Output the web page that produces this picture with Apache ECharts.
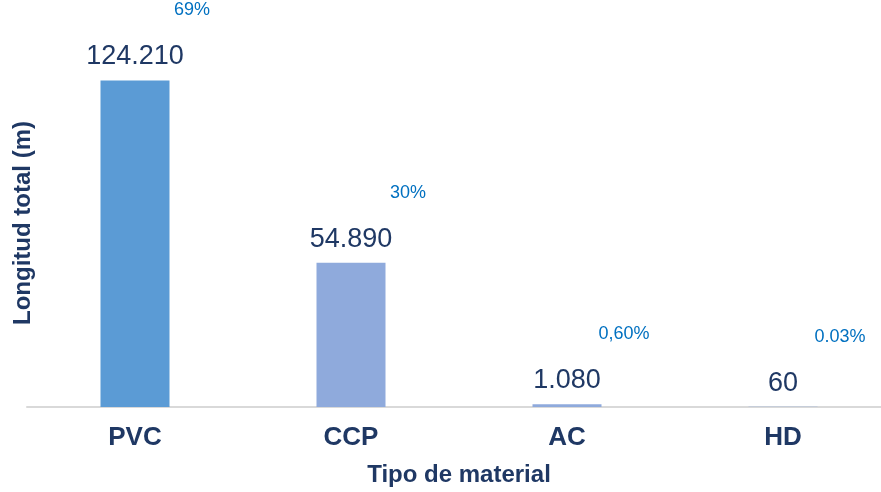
<!DOCTYPE html>
<html>
<head>
<meta charset="utf-8">
<script src="https://cdn.jsdelivr.net/npm/echarts@6/dist/echarts.min.js"></script>
<style>
  html, body { margin: 0; padding: 0; background: #fff; overflow: hidden; }
  #chart { width: 891px; height: 492px; }
</style>
</head>
<body>
<div id="chart"></div>
<script>
// Longitud total de tubería por tipo de material
const materiales = ['PVC', 'CCP', 'AC', 'HD'];
const longitudes = [124210, 54890, 1080, 60];
const porcentajes = ['69%', '30%', '0,60%', '0.03%'];
const coloresBarra = ['#5B9BD5', '#8FAADC', '#8FAADC', '#8FAADC'];

const fmtMiles = v => String(v).replace(/\B(?=(\d{3})+(?!\d))/g, '.');

const chart = echarts.init(document.getElementById('chart'), null, { renderer: 'canvas' });

chart.setOption({
  animation: false,
  textStyle: { fontFamily: '"Liberation Sans", Arial, sans-serif' },
  // el área de trazado sigue más allá del borde derecho visible
  grid: { left: 27, top: 39, right: 0, bottom: 85 },
  xAxis: {
    type: 'category',
    data: materiales,
    axisLine: { lineStyle: { color: '#D9D9D9', width: 2 } },
    axisTick: { show: false },
    axisLabel: {
      margin: 18,
      fontSize: 26,
      fontWeight: 'bold',
      color: '#1F3864'
    },
    name: 'Tipo de material',
    nameLocation: 'middle',
    nameGap: 68,
    nameTextStyle: {
      fontSize: 24,
      fontWeight: 'bold',
      color: '#1F3864',
      verticalAlign: 'middle',
      padding: [0, 0, 0, 0]
    }
  },
  yAxis: {
    type: 'value',
    min: 0,
    max: 140000,
    axisLine: { show: false },
    axisTick: { show: false },
    axisLabel: { show: false },
    splitLine: { show: false },
    name: 'Longitud total (m)',
    nameLocation: 'middle',
    nameGap: 4,
    nameTextStyle: {
      fontSize: 24,
      fontWeight: 'bold',
      color: '#1F3864',
      verticalAlign: 'middle'
    }
  },
  series: [
    {
      type: 'bar',
      barWidth: 69,
      data: longitudes.map((v, i) => ({ value: v, itemStyle: { color: coloresBarra[i] } })),
      label: {
        show: true,
        position: 'top',
        distance: 10,
        fontSize: 27,
        color: '#1F3864',
        formatter: p => fmtMiles(p.value)
      }
    },
    {
      // porcentaje del total, rotulado arriba a la derecha de cada barra
      type: 'bar',
      barWidth: 69,
      barGap: '-100%',
      silent: true,
      itemStyle: { color: 'transparent' },
      data: longitudes,
      label: {
        show: true,
        position: 'top',
        distance: 10,
        offset: [57, -51],
        fontSize: 18,
        color: '#0070C0',
        formatter: p => porcentajes[p.dataIndex]
      }
    }
  ]
});
</script>
</body>
</html>
